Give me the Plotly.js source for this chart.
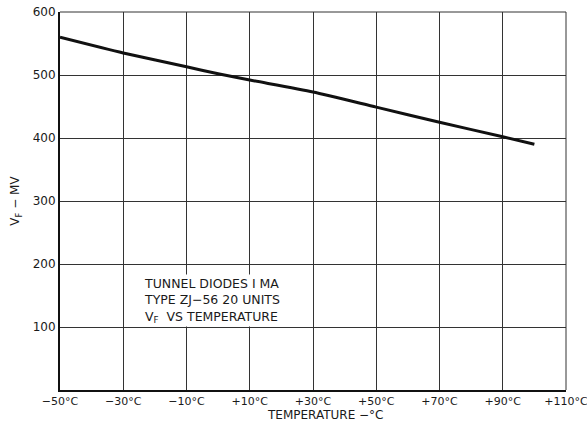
<!DOCTYPE html>
<html>
<head>
<meta charset="utf-8">
<script src="https://cdn.plot.ly/plotly-3.0.1.min.js"></script>
<style>html,body{margin:0;padding:0;background:#fff;}#chart{width:587px;height:421px;}</style>
</head>
<body>
<div id="chart"></div>
<script>
// Temperature (°C) and forward voltage V_F (mV)
const temperature = [-50, -30, -10, 0, 10, 30, 50, 70, 90, 100];
const vfMillivolts = [560, 535, 513, 502, 492, 473, 449, 425, 402, 390];

const xTickVals = [-50, -30, -10, 10, 30, 50, 70, 90, 110];
const xTickText = ["\u221250\u00b0C", "\u221230\u00b0C", "\u221210\u00b0C", "+10\u00b0C", "+30\u00b0C", "+50\u00b0C", "+70\u00b0C", "+90\u00b0C", "+110\u00b0C"];
const yTickVals = [100, 200, 300, 400, 500, 600];
const yTickText = ["100", "200", "300", "400", "500", "600"];

const noteLines = ["TUNNEL DIODES I MA", "TYPE ZJ\u221256 20 UNITS", "V<sub>F</sub>  VS TEMPERATURE"];
const xTitle = "TEMPERATURE \u2212\u00b0C";
const yTitle = "V<sub>F</sub> \u2212 MV";

const font = {family: "DejaVu Sans", size: 12, color: "#1a1a1a"};
const xTickFont = {family: "DejaVu Sans", size: 11, color: "#1a1a1a"};
const noteFont = {family: "DejaVu Sans", size: 12.5, color: "#1a1a1a"};

const trace = {
  x: temperature,
  y: vfMillivolts,
  type: "scatter",
  mode: "lines",
  line: {color: "#111", width: 3, shape: "spline", smoothing: 0.6},
  hoverinfo: "skip"
};

const layout = {
  width: 587,
  height: 421,
  margin: {l: 60, r: 21, t: 12, b: 31},
  paper_bgcolor: "#fff",
  plot_bgcolor: "#fff",
  showlegend: false,
  font: font,
  xaxis: {
    range: [-50, 110],
    tickvals: xTickVals,
    ticktext: xTickText,
    showgrid: true,
    gridcolor: "#333",
    gridwidth: 1,
    zeroline: false,
    showline: true,
    linecolor: "#111",
    linewidth: 2,
    ticks: "",
    ticklabelstandoff: 0,
    ticklabeloverflow: "allow",
    tickfont: xTickFont
  },
  yaxis: {
    range: [0, 600],
    tickvals: yTickVals,
    ticktext: yTickText,
    showgrid: true,
    gridcolor: "#333",
    gridwidth: 1,
    zeroline: false,
    showline: true,
    linecolor: "#111",
    linewidth: 2,
    ticks: "",
    tickfont: font,
    title: {text: yTitle, font: font, standoff: 10}
  },
  shapes: [
    {type: "line", xref: "paper", yref: "paper", x0: 1, x1: 1, y0: 0, y1: 1, line: {color: "#333", width: 1}},
    {type: "line", xref: "paper", yref: "paper", x0: 0, x1: 1, y0: 1, y1: 1, line: {color: "#333", width: 1}}
  ],
  annotations: [{
    x: -24,
    y: 184,
    xref: "x",
    yref: "y",
    xanchor: "left",
    yanchor: "top",
    align: "left",
    showarrow: false,
    text: noteLines.join("<br>"),
    font: noteFont,
    bgcolor: "#fff"
  }, {
    x: 0.524,
    y: 0,
    xref: "paper",
    yref: "paper",
    xanchor: "center",
    yanchor: "top",
    yshift: -16,
    showarrow: false,
    text: xTitle,
    font: font
  }]
};

Plotly.newPlot("chart", [trace], layout, {displayModeBar: false, staticPlot: true});
</script>
</body>
</html>
